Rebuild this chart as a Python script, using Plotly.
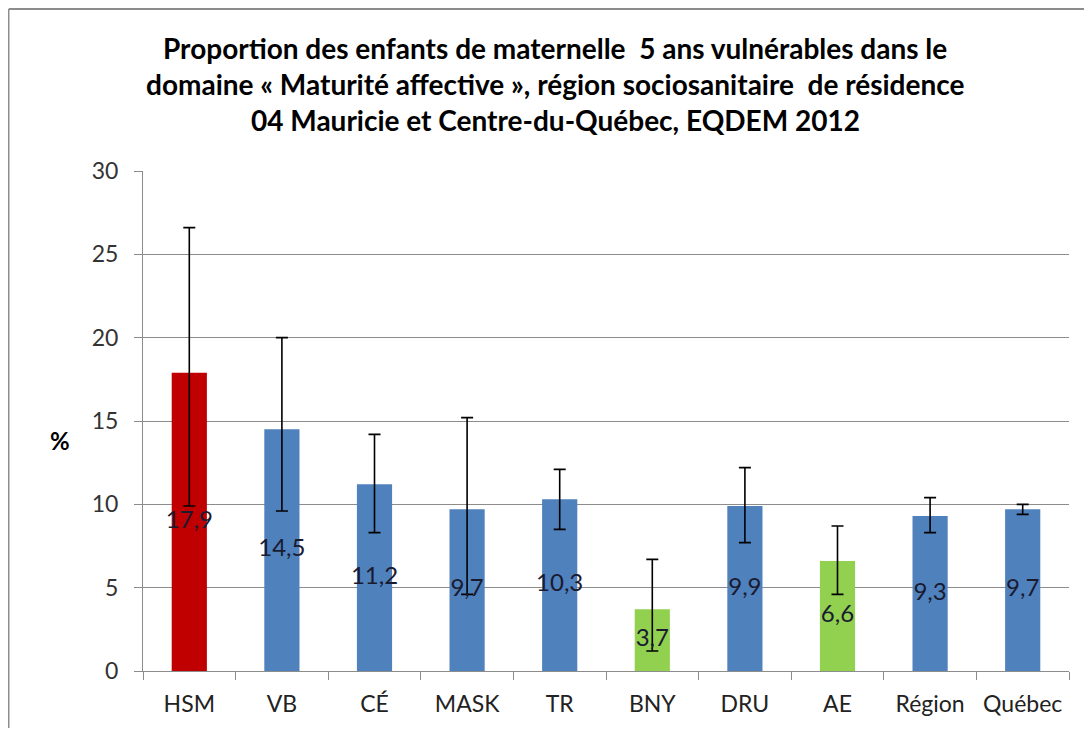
import plotly.graph_objects as go

categories = ["HSM", "VB", "CÉ", "MASK", "TR", "BNY", "DRU", "AE", "Région", "Québec"]
values = [17.9, 14.5, 11.2, 9.7, 10.3, 3.7, 9.9, 6.6, 9.3, 9.7]
upper_ci = [26.6, 20.0, 14.2, 15.2, 12.1, 6.7, 12.2, 8.7, 10.4, 10.0]
lower_ci = [9.9, 9.6, 8.3, 4.6, 8.5, 1.2, 7.7, 4.6, 8.3, 9.4]
bar_colors = ["#C00000", "#4F81BD", "#4F81BD", "#4F81BD", "#4F81BD",
              "#92D050", "#4F81BD", "#92D050", "#4F81BD", "#4F81BD"]
y_ticks = [0, 5, 10, 15, 20, 25, 30]
title_lines = [
    "Proportion des enfants de maternelle  5 ans vulnérables dans le",
    "domaine « Maturité affective », région sociosanitaire  de résidence",
    "04 Mauricie et Centre-du-Québec, EQDEM 2012",
]

err_plus = [u - v for u, v in zip(upper_ci, values)]
err_minus = [v - l for v, l in zip(values, lower_ci)]
labels = [f"{v:.1f}".replace(".", ",") for v in values]

FONT = "Lato, Carlito, Calibri, sans-serif"

fig = go.Figure()
fig.add_trace(go.Bar(
    x=categories, y=values, width=0.38,
    marker=dict(color=bar_colors, line=dict(width=0)),
    error_y=dict(type="data", symmetric=False, array=err_plus, arrayminus=err_minus,
                 color="black", thickness=1.6, width=6),
    hoverinfo="x+y",
))
fig.add_trace(go.Scatter(
    x=categories, y=[v / 2 for v in values], mode="text", text=labels,
    textposition="middle center",
    textfont=dict(family=FONT, size=24, color="#1a1a30"),
    hoverinfo="skip",
))

fig.update_layout(
    width=1076, height=720, autosize=False,
    margin=dict(l=135, r=15, t=163, b=57),
    paper_bgcolor="white", plot_bgcolor="white",
    showlegend=False,
    font=dict(family=FONT, size=23, color="#222"),
)
fig.update_xaxes(
    showline=True, linecolor="#8c8c8c", linewidth=1,
    ticks="outside", ticklen=8, tickcolor="#8c8c8c", tickson="boundaries",
    showgrid=False, tickfont=dict(family=FONT, size=23, color="#222"),
    ticklabelstandoff=12,
)
fig.update_yaxes(
    range=[0, 30], tickvals=y_ticks, ticktext=[str(t) for t in y_ticks],
    showgrid=True, gridcolor="#8c8c8c", gridwidth=1,
    showline=True, linecolor="#8c8c8c", linewidth=1,
    ticks="outside", ticklen=8, tickcolor="#8c8c8c",
    tickfont=dict(family=FONT, size=23, color="#333"),
    ticklabelstandoff=11,
    zeroline=False,
)

for i, line in enumerate(title_lines):
    fig.add_annotation(
        text=f"<b>{line}</b>", xref="paper", yref="paper",
        x=0.445, y=1.246 - i * 0.072, xanchor="center", yanchor="middle",
        showarrow=False, font=dict(family=FONT, size=28, color="black"),
    )

fig.add_annotation(
    text="<b>%</b>", xref="paper", yref="paper", x=-0.0896, y=0.462,
    xanchor="center", yanchor="middle", showarrow=False,
    font=dict(family=FONT, size=24, color="black"),
)

# outer chart border
fig.add_shape(type="line", xref="paper", yref="paper", x0=-0.145, x1=1.02, y0=1.324, y1=1.324,
              line=dict(color="#8c8c8c", width=2))
fig.add_shape(type="line", xref="paper", yref="paper", x0=-0.145, x1=-0.145, y0=1.324, y1=-0.12,
              line=dict(color="#8c8c8c", width=1.5))

fig.write_html("out.html")
